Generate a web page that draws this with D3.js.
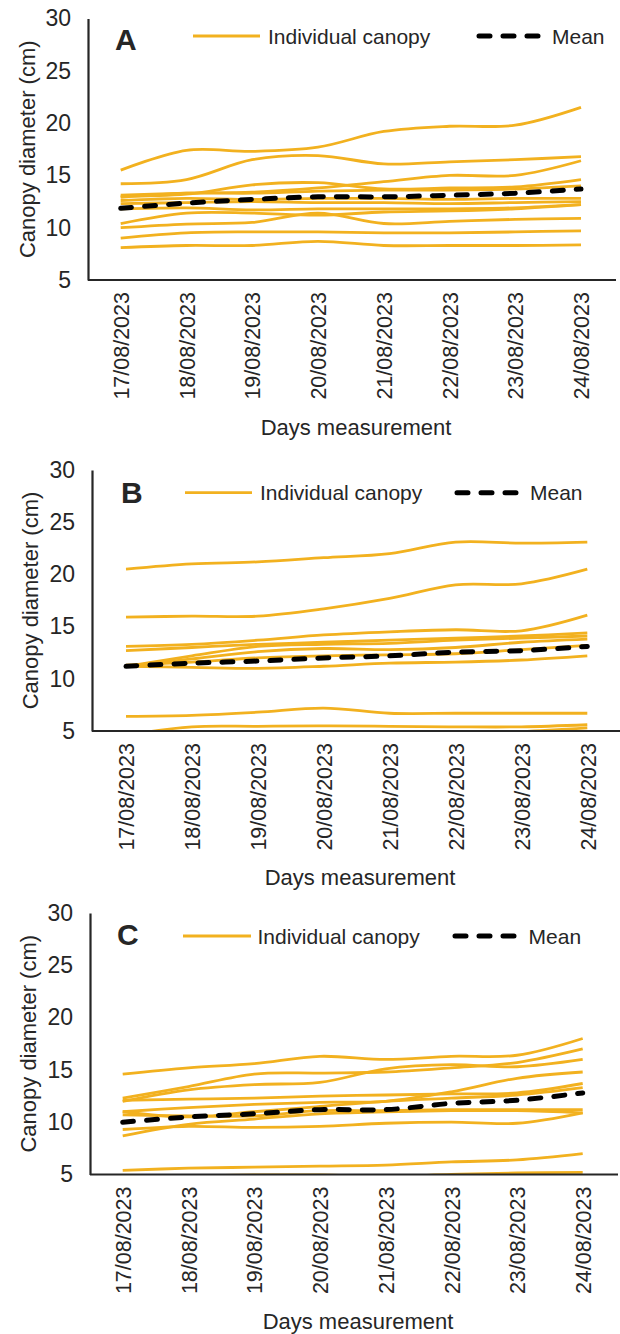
<!DOCTYPE html>
<html>
<head>
<meta charset="utf-8">
<script src="https://cdn.jsdelivr.net/npm/d3@7"></script>
<style>
  html, body { margin: 0; padding: 0; background: #fff; }
  svg { display: block; }
  text { font-family: "Liberation Sans", Arial, sans-serif; fill: #262626; }
</style>
</head>
<body>
<svg id="chart" width="620" height="1334"></svg>
<script>
// ---------------- DATA ----------------
const dates = ["17/08/2023", "18/08/2023", "19/08/2023", "20/08/2023",
               "21/08/2023", "22/08/2023", "23/08/2023", "24/08/2023"];
const yTicks = [5, 10, 15, 20, 25, 30];
const panelLabels = ["A", "B", "C"];
const legendLabels = ["Individual canopy", "Mean"];
const xTitle = "Days measurement";
const yTitle = "Canopy diameter (cm)";

const canopyA = [
  [15.5, 17.4, 17.3, 17.7, 19.2, 19.7, 19.8, 21.5],
  [14.2, 14.6, 16.5, 16.9, 16.1, 16.3, 16.5, 16.8],
  [13.1, 13.3, 13.4, 13.8, 14.4, 15.0, 15.0, 16.4],
  [13.0, 13.2, 14.1, 14.3, 13.7, 13.8, 13.9, 14.6],
  [12.9, 13.3, 13.3, 13.5, 13.6, 13.6, 13.7, 14.0],
  [12.6, 12.8, 12.7, 12.8, 12.8, 12.7, 12.8, 12.8],
  [12.3, 12.4, 12.5, 12.4, 12.4, 12.3, 12.4, 12.5],
  [11.8, 11.9, 11.7, 11.8, 11.8, 11.8, 11.9, 12.2],
  [10.4, 11.4, 11.4, 11.2, 11.5, 11.6, 11.8, 12.2],
  [10.0, 10.35, 10.5, 11.4, 10.4, 10.6, 10.8, 10.9],
  [9.0, 9.5, 9.6, 9.6, 9.5, 9.5, 9.6, 9.7],
  [8.1, 8.3, 8.3, 8.7, 8.3, 8.3, 8.3, 8.35]
];
const meanA = [11.85, 12.35, 12.7, 12.95, 12.95, 13.1, 13.3, 13.7];

const canopyB = [
  [20.5, 21.0, 21.2, 21.6, 22.0, 23.1, 23.0, 23.1],
  [15.9, 16.0, 16.0, 16.7, 17.7, 19.0, 19.1, 20.5],
  [13.1, 13.3, 13.7, 14.2, 14.5, 14.7, 14.6, 16.1],
  [12.7, 13.0, 13.3, 13.5, 13.7, 13.9, 14.1, 14.4],
  [11.2, 12.2, 13.1, 13.3, 13.4, 13.7, 13.9, 14.1],
  [11.2, 11.9, 12.6, 12.9, 12.8, 13.0, 13.5, 13.8],
  [11.3, 11.6, 12.0, 12.2, 12.3, 12.4, 12.8, 13.2],
  [11.2, 11.1, 11.0, 11.2, 11.5, 11.6, 11.8, 12.2],
  [6.4, 6.5, 6.8, 7.2, 6.7, 6.7, 6.7, 6.7],
  [4.6, 5.4, 5.45, 5.5, 5.45, 5.4, 5.4, 5.6],
  [4.5, 4.6, 4.7, 4.7, 4.8, 4.8, 4.95, 5.3]
];
const meanB = [11.2, 11.5, 11.7, 12.0, 12.2, 12.55, 12.7, 13.1];

const canopyC = [
  [14.6, 15.2, 15.6, 16.3, 16.0, 16.3, 16.4, 18.0],
  [12.3, 13.4, 14.6, 14.7, 14.8, 15.2, 15.7, 17.0],
  [12.0, 13.1, 13.6, 13.8, 15.1, 15.5, 15.3, 16.0],
  [11.0, 11.4, 11.7, 11.9, 12.0, 12.9, 14.2, 14.8],
  [12.1, 12.2, 12.3, 12.5, 12.6, 12.7, 12.8, 13.7],
  [11.0, 10.5, 11.0, 11.5, 12.0, 12.3, 12.6, 13.3],
  [10.7, 10.6, 10.6, 11.1, 11.1, 11.2, 11.2, 11.2],
  [8.7, 9.8, 10.3, 10.8, 11.0, 11.1, 11.1, 10.9],
  [9.3, 9.6, 9.5, 9.6, 9.9, 10.0, 9.9, 10.9],
  [5.4, 5.6, 5.7, 5.8, 5.9, 6.2, 6.4, 7.0],
  [4.5, 4.8, 4.95, 4.95, 4.8, 5.0, 5.15, 5.2]
];
const meanC = [10.0, 10.5, 10.8, 11.2, 11.2, 11.8, 12.1, 12.8];

// ---------------- LAYOUT ----------------
const layouts = [
  { axisX: 88, top: 18.5, bottom: 280, right: 616, x0: 120.7, x1: 581,
    label: [115, 39], leg: [193, 260, 268, 477, 545, 552, 36],
    yTitleX: 27, xTitleY: 427 },
  { axisX: 92, top: 470, bottom: 731, right: 620, x0: 126, x1: 587.3,
    label: [121, 492], leg: [185, 252, 260, 455, 521, 530, 492.7],
    yTitleX: 30, xTitleY: 877 },
  { axisX: 90, top: 913, bottom: 1174.5, right: 618, x0: 122.7, x1: 582.7,
    label: [117, 934], leg: [183, 251, 257.5, 453, 521, 528.6, 936],
    yTitleX: 28, xTitleY: 1321 }
];
const panels = [
  { canopy: canopyA, mean: meanA },
  { canopy: canopyB, mean: meanB },
  { canopy: canopyC, mean: meanC }
];

const ORANGE = "#F2B11F";
const svg = d3.select("#chart");

panels.forEach((p, i) => {
  const L = layouts[i];
  const g = svg.append("g");
  const x = d3.scalePoint().domain(dates).range([L.x0, L.x1]);
  const y = d3.scaleLinear().domain([5, 30]).range([L.bottom, L.top]);

  const clipId = "clip" + i;
  g.append("clipPath").attr("id", clipId)
    .append("rect")
    .attr("x", L.axisX).attr("y", L.top - 10)
    .attr("width", L.right - L.axisX).attr("height", L.bottom - L.top + 10);

  const line = d3.line()
    .x((d, j) => x(dates[j]))
    .y(d => y(d))
    .curve(d3.curveCatmullRom.alpha(0.5));

  const plot = g.append("g").attr("clip-path", `url(#${clipId})`);
  plot.selectAll("path.canopy").data(p.canopy).join("path")
    .attr("class", "canopy")
    .attr("d", line)
    .attr("fill", "none")
    .attr("stroke", ORANGE)
    .attr("stroke-width", 2.8);
  plot.append("path")
    .datum(p.mean)
    .attr("d", line)
    .attr("fill", "none")
    .attr("stroke", "#000")
    .attr("stroke-width", 5)
    .attr("stroke-linecap", "round")
    .attr("stroke-dasharray", "11 13");

  // Y axis
  const yAxis = d3.axisLeft(y).tickValues(yTicks).tickSize(0).tickPadding(17);
  const ya = g.append("g").attr("transform", `translate(${L.axisX},0)`).call(yAxis);
  ya.select(".domain").attr("stroke", "#262626").attr("stroke-width", 2.2);
  ya.selectAll("text").style("font-size", "23px").attr("fill", "#262626");

  // X axis
  const xAxis = d3.axisBottom(x).tickSize(0).tickPadding(0);
  const xa = g.append("g").attr("transform", `translate(0,${L.bottom})`).call(xAxis);
  xa.select(".domain")
    .attr("d", `M${L.axisX},0H${L.right}`)
    .attr("stroke", "#262626").attr("stroke-width", 2.2);
  xa.selectAll("text")
    .style("font-size", "21.5px")
    .attr("fill", "#262626")
    .attr("text-anchor", "end")
    .attr("transform", "translate(0,12) rotate(-90)")
    .attr("x", 0).attr("y", 0).attr("dy", "0.36em");

  // Titles
  g.append("text")
    .attr("x", (L.axisX + L.right) / 2 + 4)
    .attr("y", L.xTitleY)
    .attr("text-anchor", "middle")
    .attr("dominant-baseline", "central")
    .style("font-size", "22px")
    .text(xTitle);
  g.append("text")
    .attr("transform", `translate(${L.yTitleX},${(L.top + L.bottom) / 2}) rotate(-90)`)
    .attr("text-anchor", "middle")
    .attr("dominant-baseline", "central")
    .style("font-size", "22px")
    .text(yTitle);

  // Panel letter
  g.append("text")
    .attr("x", L.label[0]).attr("y", L.label[1])
    .attr("dominant-baseline", "central")
    .style("font-size", "30px").style("font-weight", "bold")
    .attr("fill", "#000")
    .text(panelLabels[i]);

  // Legend
  const [l1, l2, t1, d1, d2, t2, ly] = L.leg;
  g.append("line").attr("x1", l1).attr("x2", l2).attr("y1", ly).attr("y2", ly)
    .attr("stroke", ORANGE).attr("stroke-width", 2.8);
  g.append("text").attr("x", t1).attr("y", ly).attr("dominant-baseline", "central")
    .style("font-size", "21px").attr("fill", "#404040").text(legendLabels[0]);
  g.append("line").attr("x1", d1 + 2).attr("x2", d2 - 2).attr("y1", ly).attr("y2", ly)
    .attr("stroke", "#000").attr("stroke-width", 5)
    .attr("stroke-linecap", "round").attr("stroke-dasharray", "11 13");
  g.append("text").attr("x", t2).attr("y", ly).attr("dominant-baseline", "central")
    .style("font-size", "21px").attr("fill", "#404040").text(legendLabels[1]);
});
</script>
</body>
</html>
